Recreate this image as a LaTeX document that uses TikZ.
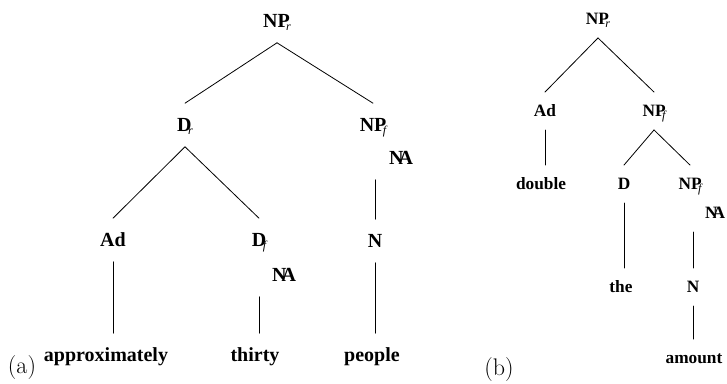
\documentclass[tikz,border=0pt]{standalone}
\usepackage{fontspec}
\newfontfamily\timesfont{Liberation Serif}
\newcommand\labsub[1]{\kern-3.5pt\raisebox{-3pt}{\fontsize{12}{12}\selectfont\mdseries\itshape #1}}
\newcommand\labna{N\kern-5pt A}

\begin{document}
\begin{tikzpicture}[x=1pt,y=-1pt,line cap=round,
  lab/.style={font=\timesfont\bfseries\fontsize{20}{22}\selectfont,text height=13.2pt,text depth=0pt,inner xsep=0pt,inner ysep=15pt},
  labb/.style={lab,font=\timesfont\bfseries\fontsize{17.3}{19}\selectfont,text height=11.5pt,inner ysep=13pt},
  tag/.style={font=\fontsize{24}{26}\selectfont,inner sep=0pt},
  br/.style={line width=0.8pt}]
\useasboundingbox (0,0) rectangle (727,383);
% tree (a)
\node[lab] (anp) at (277,21) {NP\labsub{r}};
\node[lab] (adr) at (185,125) {D\labsub{r}};
\node[lab] (anpf) at (373,125) {NP\labsub{f}};
\node[lab] (anpfna) at (401,158) {\labna};
\node[lab] (aad) at (113,240) {Ad};
\node[lab] (adf) at (259,240) {D\labsub{f}};
\node[lab] (adfna) at (284,275) {\labna};
\node[lab] (an) at (375,241) {N};
\node[lab] (aapprox) at (106,355) {approximately};
\node[lab] (athirty) at (255,355) {thirty};
\node[lab] (apeople) at (372,355) {people};
\node[tag] (atag) at (22,368) {(a)};
\draw[br] (anp.south) -- (adr.north);
\draw[br] (anp.south) -- (anpf.north);
\draw[br] (adr.south) -- (aad.north);
\draw[br] (adr.south) -- (adf.north);
\draw[br] (an |- anpfna.south) -- (an.north);
\draw[br] (aad.south) -- (aad |- aapprox.north);
\draw[br] (adf |- adfna.south) -- (adf |- athirty.north);
\draw[br] (an.south) -- (an |- apeople.north);
% tree (b)
\node[labb] (bnp) at (598,19) {NP\labsub{r}};
\node[labb] (bad) at (545,111) {Ad};
\node[labb] (bnpf) at (654,111) {NP\labsub{f}};
\node[labb] (bdouble) at (541,184) {double};
\node[labb] (bd) at (624,184) {D};
\node[labb] (bnpf2) at (690,184) {NP\labsub{f}};
\node[labb] (bna) at (715,213) {\labna};
\node[labb] (bthe) at (621,287) {the};
\node[labb] (bn) at (693,287) {N};
\node[labb] (bamount) at (694,358) {amount};
\node[tag] (btag) at (499,370) {(b)};
\draw[br] (bnp.south) -- (bad.north);
\draw[br] (bnp.south) -- (bnpf.north);
\draw[br] (bad.south) -- (bad |- bdouble.north);
\draw[br] (bnpf.south) -- (bd.north);
\draw[br] (bnpf.south) -- (bnpf2.north);
\draw[br] (bd.south) -- (bd |- bthe.north);
\draw[br] (bn |- bna.south) -- (bn.north);
\draw[br] (bn.south) -- (bn |- bamount.north);
\end{tikzpicture}
\end{document}
